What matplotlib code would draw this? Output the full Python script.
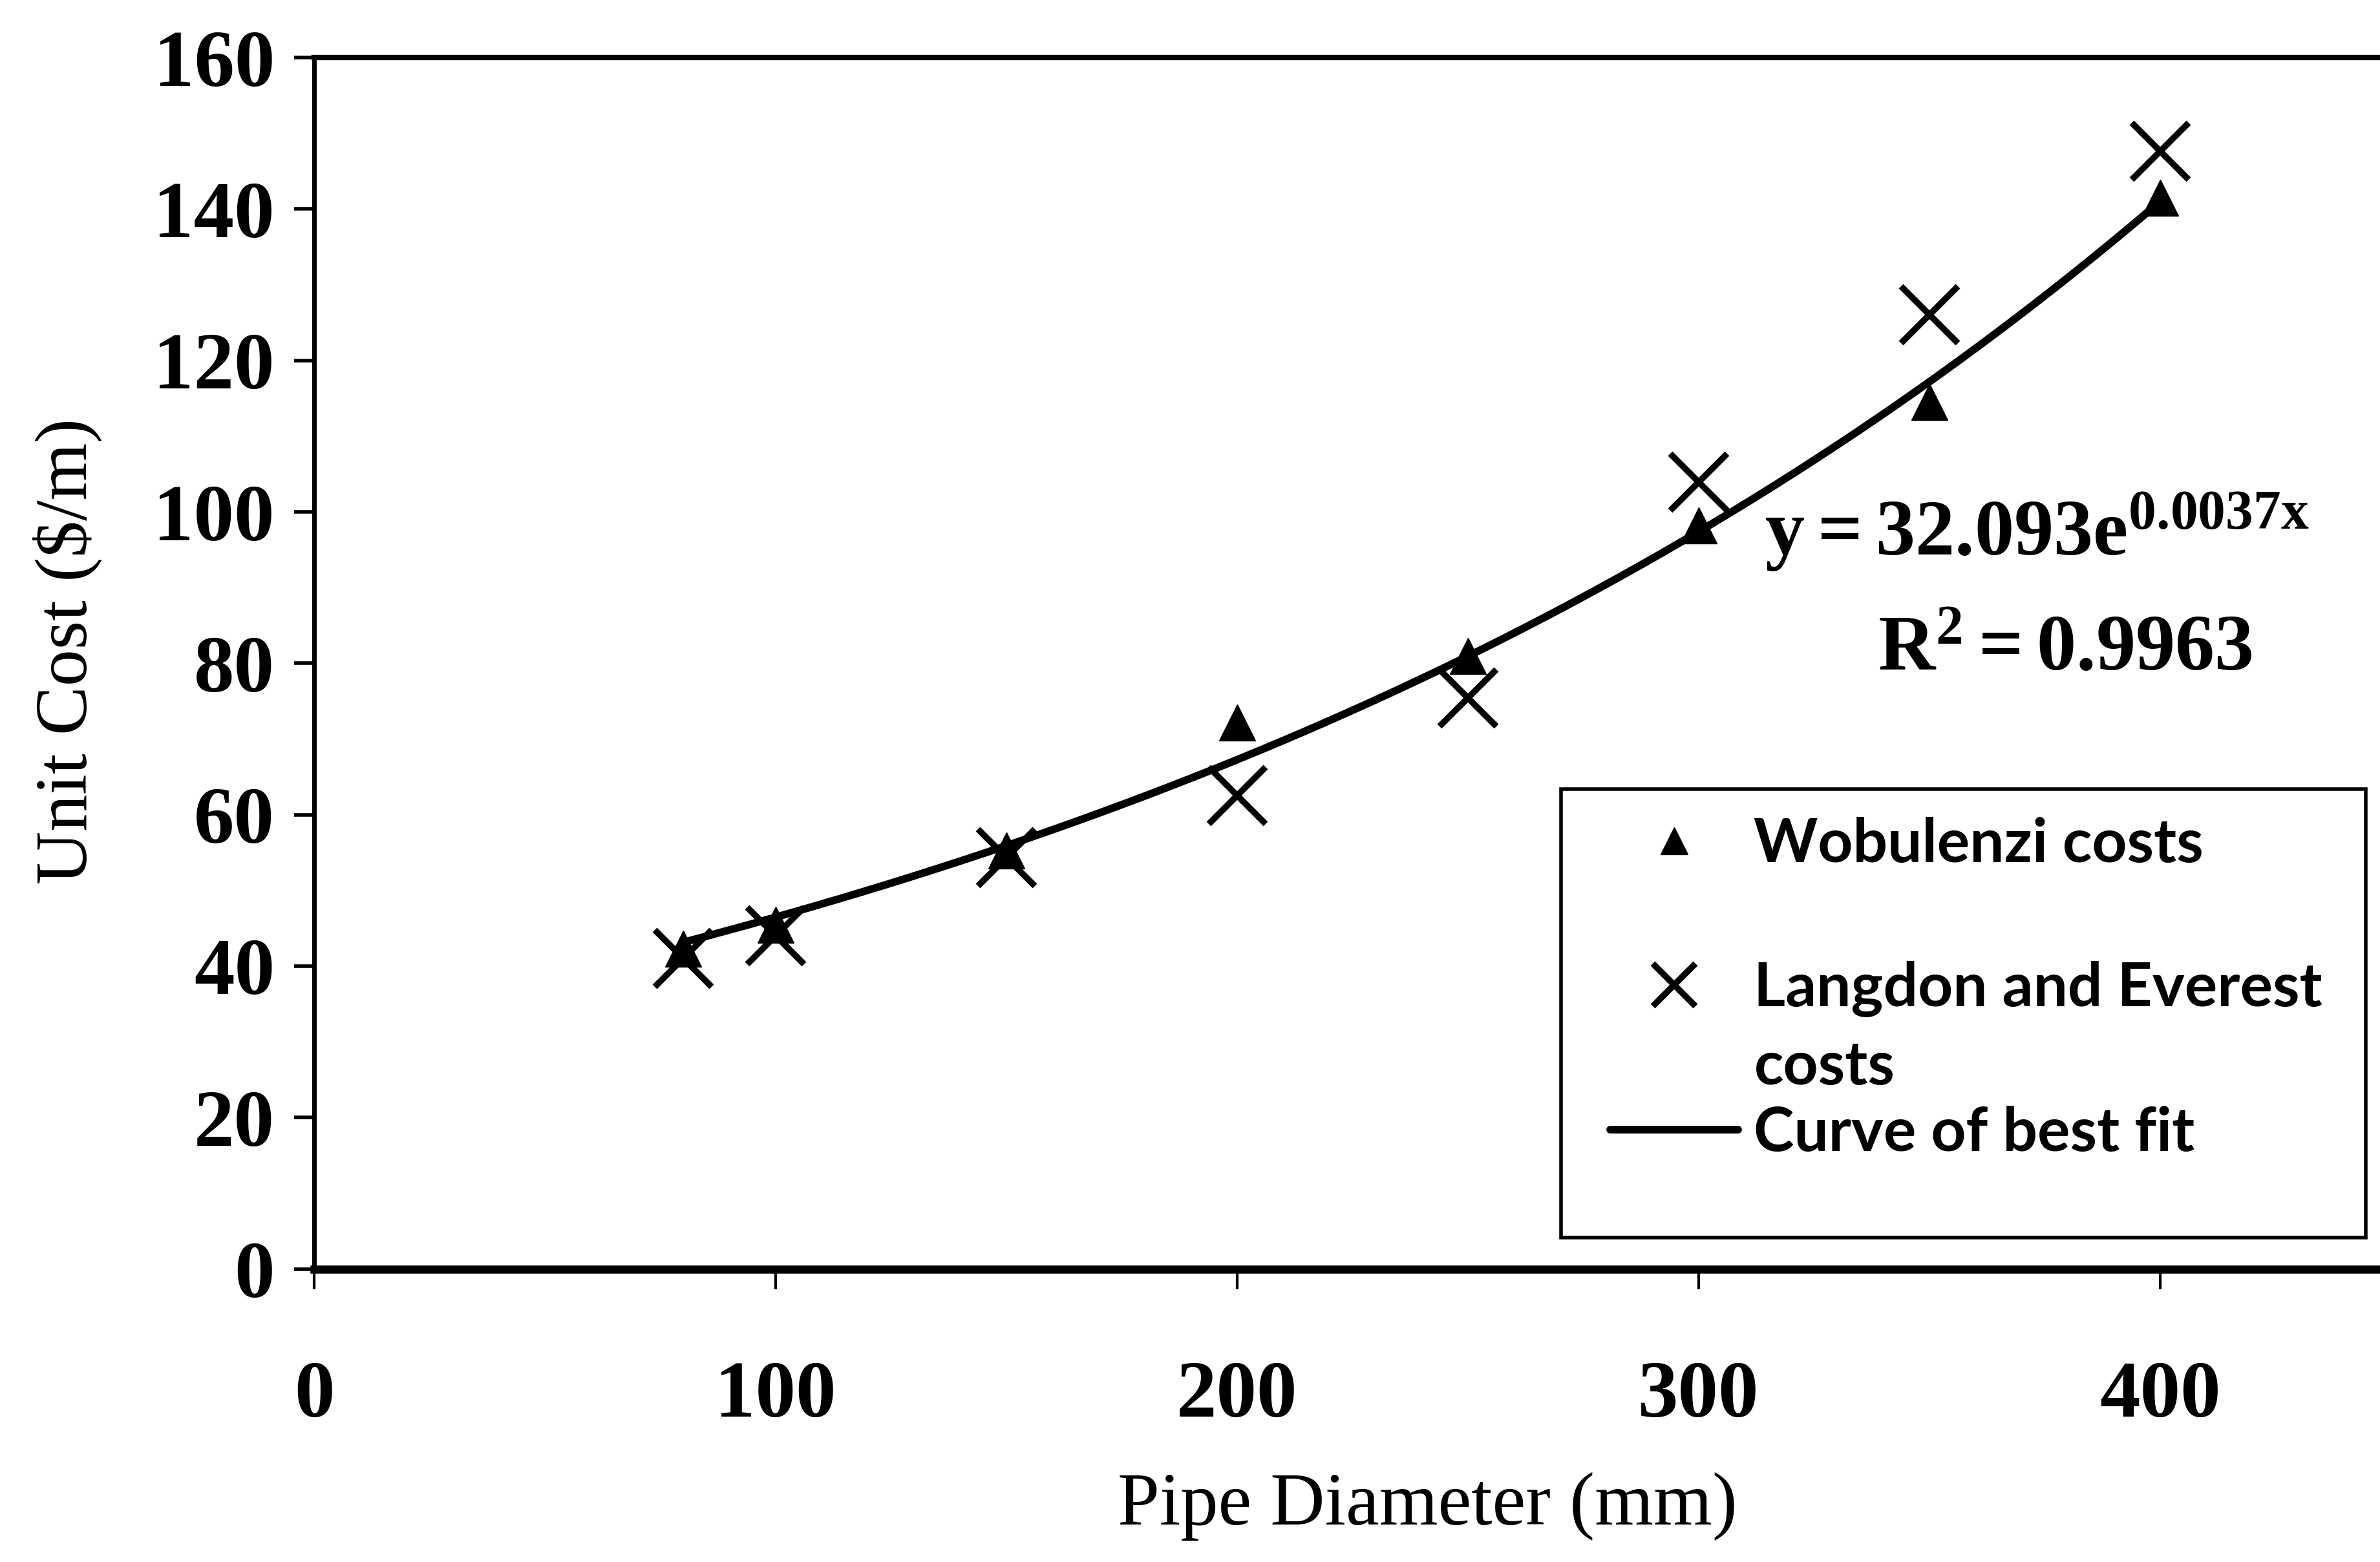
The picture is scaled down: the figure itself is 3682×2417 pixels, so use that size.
import numpy as np
import matplotlib
matplotlib.use("Agg")
from matplotlib import pyplot as plt
from matplotlib.patches import Rectangle

# data
diam = [80, 100, 150, 200, 250, 300, 350, 400]
wobulenzi = [42.3, 45.5, 55.3, 72.2, 81.0, 98.2, 114.5, 141.5]
langdon = [41.0, 44.0, 54.3, 62.5, 75.4, 103.9, 126.0, 147.6]

# best fit: y = a*e^(b*x)
fit_a = 32.093
fit_b = 0.0037
fit_r2 = 0.9963

xticks = [0, 100, 200, 300, 400]
yticks = [0, 20, 40, 60, 80, 100, 120, 140, 160]

plt.rcParams['font.family'] = 'Liberation Serif'
plt.rcParams['mathtext.fontset'] = 'custom'
plt.rcParams['mathtext.rm'] = 'Liberation Serif:bold'
plt.rcParams['mathtext.bf'] = 'Liberation Serif:bold'
plt.rcParams['mathtext.it'] = 'Liberation Serif:bold'

fig = plt.figure(figsize=(36.82, 24.17), dpi=100)
ax = fig.add_axes([0.132, 0.1876, 0.8725, 0.7755])

xf = np.linspace(diam[0], diam[-1], 200)
line, = ax.plot(xf, fit_a * np.exp(fit_b * xf), color='black', lw=8.5,
                solid_capstyle='round', zorder=2)
tri, = ax.plot(diam, wobulenzi, ls='none', marker='^', ms=40, color='black',
               zorder=3)
crs, = ax.plot(diam, langdon, ls='none', marker='x', ms=64, mew=7,
               color='black', zorder=3)

ax.set_xlim(0, 450)
ax.set_ylim(0, 160)
ax.set_xticks(xticks)
ax.set_yticks(yticks)
ax.tick_params(axis='y', direction='out', length=22, width=4, pad=22,
               labelsize=90)
ax.tick_params(axis='x', direction='out', length=22, width=3, pad=80,
               labelsize=90)
for lab in ax.get_xticklabels() + ax.get_yticklabels():
    lab.set_fontweight('bold')

ax.spines['right'].set_visible(False)
ax.spines['top'].set_linewidth(6)
ax.spines['left'].set_linewidth(5)
ax.spines['bottom'].set_linewidth(9)

ax.set_xlabel('Pipe Diameter (mm)', fontsize=84)
ax.set_ylabel('Unit Cost ($/m)', fontsize=82)
ax.xaxis.set_label_coords(0.536, -0.168)
ax.yaxis.set_label_coords(-0.102, 0.51)

# equation text
ax.text(0.6985, 0.59, r'$\mathbf{y = 32.093e}^{\mathbf{0.0037x}}$',
        transform=ax.transAxes, fontsize=88, ha='left', va='baseline')
ax.text(0.843, 0.51, r'$\mathbf{R}^{\mathbf{2}}\mathbf{ = 0.9963}$',
        transform=ax.transAxes, fontsize=88, ha='center', va='center')

# legend box
ax.add_patch(Rectangle((0.6006, 0.026), 0.3874, 0.37, transform=ax.transAxes,
                       fill=False, lw=4, edgecolor='black', zorder=4))
leg = ax.legend([tri, crs, line],
                ['Wobulenzi costs', 'Langdon and Everest', 'Curve of best fit'],
                loc='upper left', bbox_to_anchor=(0.624, 0.373),
                frameon=False, borderpad=0, borderaxespad=0,
                handlelength=2.1, handletextpad=0.25, labelspacing=1.45,
                markerscale=0.75,
                prop={'family': 'Lato', 'weight': 'bold', 'size': 68})
ax.text(0.6935, 0.1667, 'costs', transform=ax.transAxes, fontsize=68,
        family='Lato', weight='bold', ha='left', va='center')

fig.savefig('out.png', dpi=100)
